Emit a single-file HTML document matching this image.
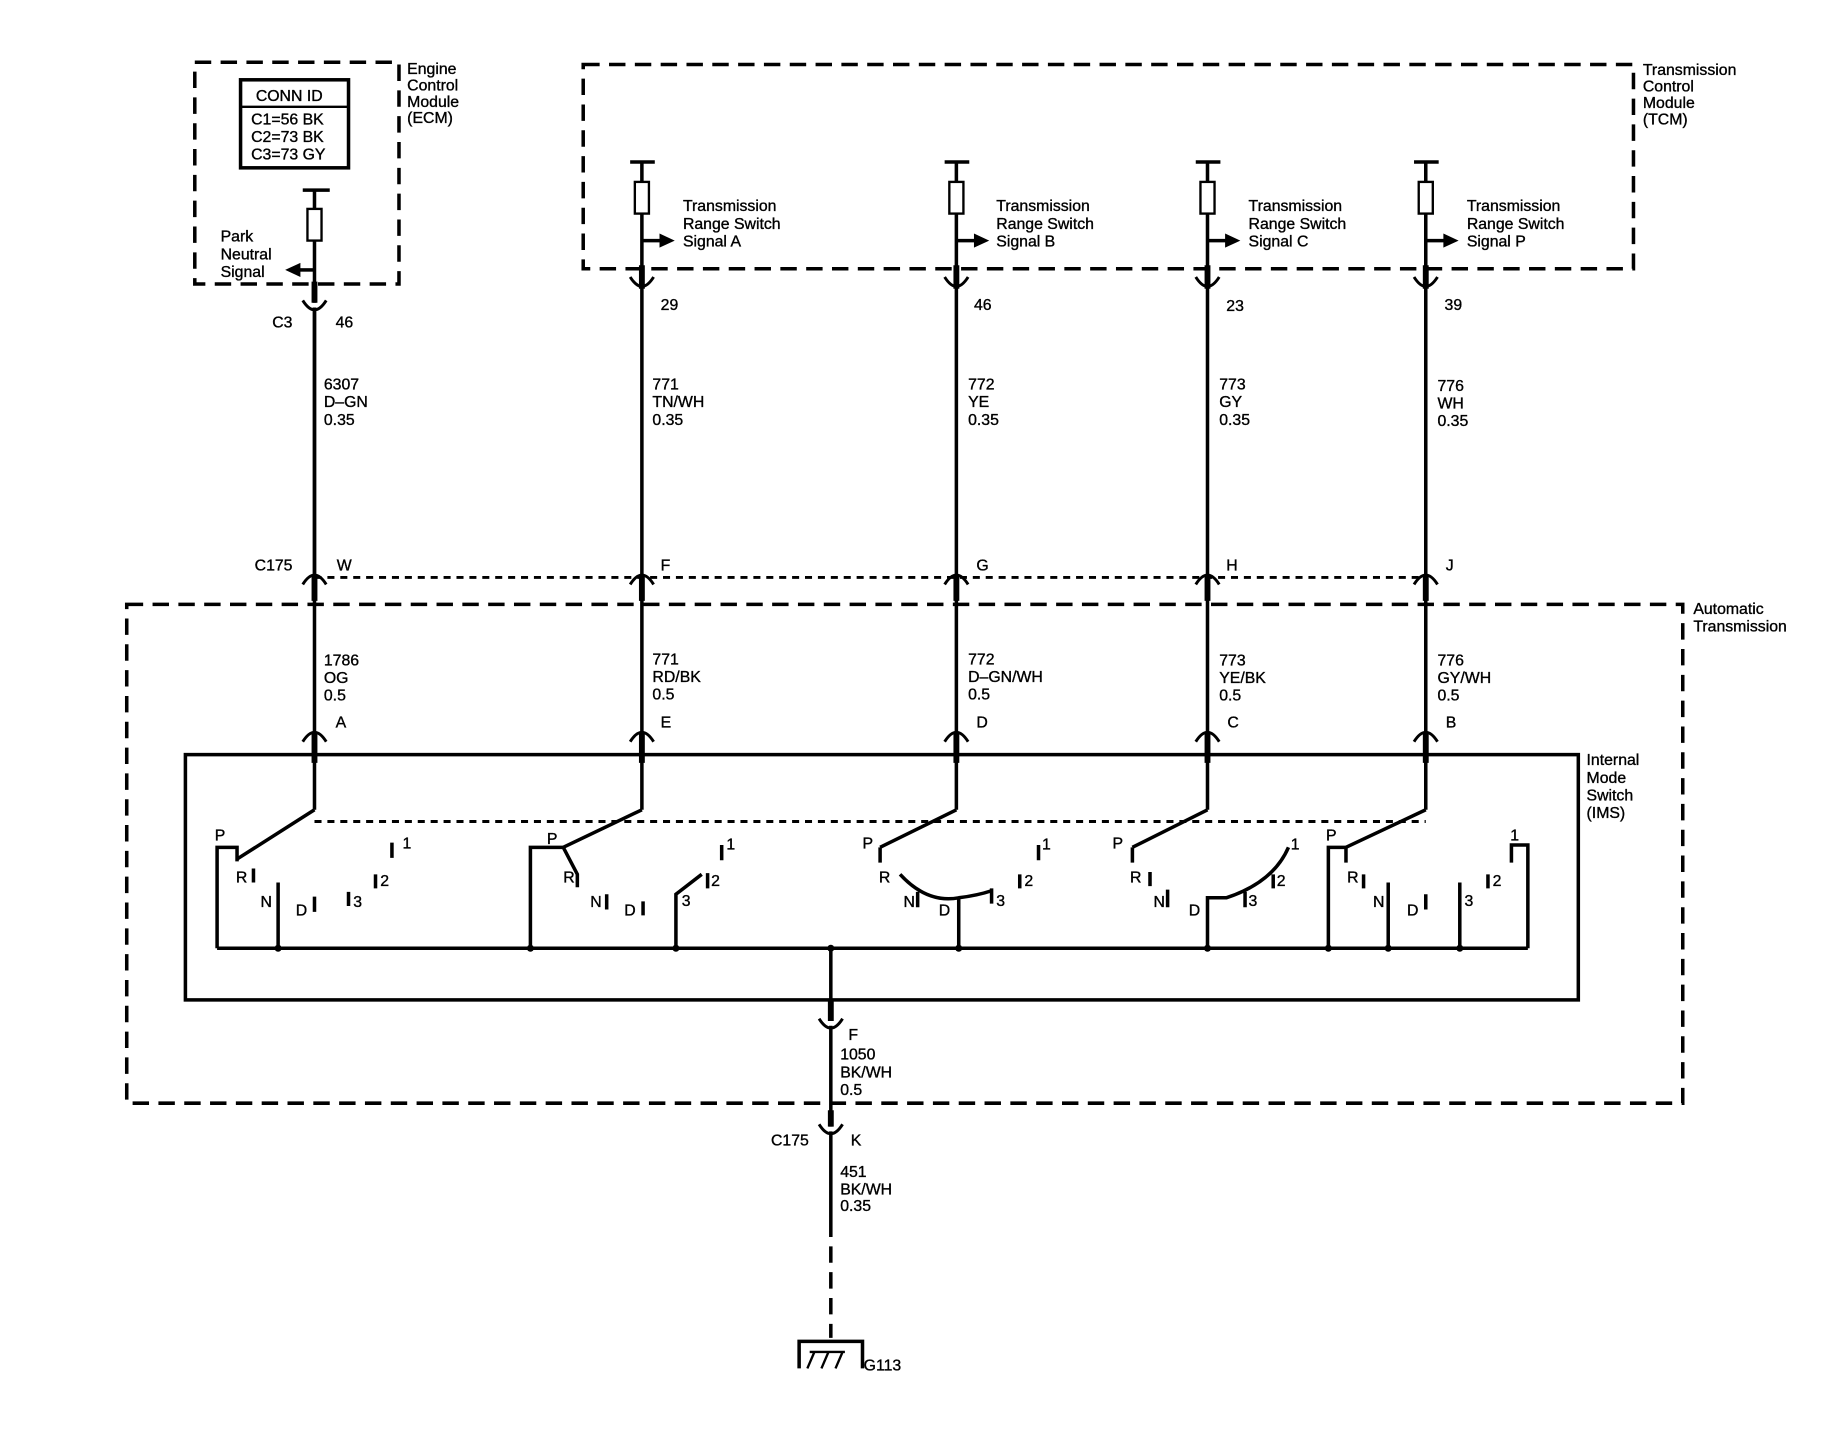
<!DOCTYPE html>
<html><head><meta charset="utf-8"><style>
html,body{margin:0;padding:0;background:#fff}
svg{display:block}
text{font-family:"Liberation Sans",Arial,sans-serif;font-size:13.5px;fill:#000;stroke:#000;stroke-width:0.3px}
</style></head><body>
<svg width="1840" height="1440" viewBox="0 0 1568 1227" preserveAspectRatio="none" xmlns="http://www.w3.org/2000/svg">
<g fill="none" stroke="#000" stroke-width="3" stroke-dasharray="14,8">
<rect x="166" y="53" width="174" height="189"/>
<rect x="497" y="55" width="895" height="174"/>
<rect x="108" y="515" width="1326" height="425"/>
</g>
<g stroke="#000" stroke-width="2.5" stroke-dasharray="6,5" fill="none">
<line x1="268" y1="492" x2="1215" y2="492"/>
<line x1="268" y1="700" x2="1215" y2="700"/>
</g>
<rect x="158" y="643" width="1187" height="209" fill="none" stroke="#000" stroke-width="3"/>
<rect x="205" y="68" width="92" height="75" fill="none" stroke="#000" stroke-width="3"/>
<line x1="205" y1="91" x2="297" y2="91" stroke="#000" stroke-width="2"/>
<text x="218" y="86">CONN ID</text>
<text x="214" y="106">C1=56 BK</text>
<text x="214" y="121">C2=73 BK</text>
<text x="214" y="136">C3=73 GY</text>
<g font-size="13.5">
<text x="347" y="63">Engine</text><text x="347" y="77">Control</text><text x="347" y="91">Module</text><text x="347" y="105">(ECM)</text>
<text x="1400" y="64">Transmission</text><text x="1400" y="78">Control</text><text x="1400" y="92">Module</text><text x="1400" y="106">(TCM)</text>
<text x="1443" y="523">Automatic</text><text x="1443" y="538">Transmission</text>
<text x="1352" y="652">Internal</text><text x="1352" y="667">Mode</text><text x="1352" y="682">Switch</text><text x="1352" y="697">(IMS)</text>
<text x="188" y="206">Park</text><text x="188" y="221">Neutral</text><text x="188" y="236">Signal</text>
</g>
<g stroke="#000" stroke-width="3" fill="none">
<line x1="258" y1="162" x2="281" y2="162"/>
<line x1="268" y1="162" x2="268" y2="178"/>
<rect x="262" y="178" width="12" height="27" stroke-width="2"/>
<line x1="268" y1="205" x2="268" y2="258"/>
<line x1="268" y1="230" x2="255" y2="230"/>
<path d="M258 256 Q268 272 278 256" stroke-width="2.5"/>
<line x1="268" y1="262" x2="268" y2="490"/>
</g>
<polygon points="243,230 256,224 256,236" fill="#000"/>
<text x="232" y="279">C3</text><text x="286" y="279">46</text>
<g stroke="#000" stroke-width="3" fill="none">
<path d="M537 138H558M547 138V155M547 182V238M547 205H563"/><rect x="541" y="155" width="12" height="27" stroke-width="2"/>
<path d="M537 236 Q547 252 557 236" stroke-width="2.5"/>
<path d="M805 138H826M815 138V155M815 182V238M815 205H831"/><rect x="809" y="155" width="12" height="27" stroke-width="2"/>
<path d="M805 236 Q815 252 825 236" stroke-width="2.5"/>
<path d="M1019 138H1040M1029 138V155M1029 182V238M1029 205H1045"/><rect x="1023" y="155" width="12" height="27" stroke-width="2"/>
<path d="M1019 236 Q1029 252 1039 236" stroke-width="2.5"/>
<path d="M1205 138H1226M1215 138V155M1215 182V238M1215 205H1231"/><rect x="1209" y="155" width="12" height="27" stroke-width="2"/>
<path d="M1205 236 Q1215 252 1225 236" stroke-width="2.5"/>
<path d="M547 242V690M815 242V690M1029 242V690M1215 242V690M268 262V690"/>
</g>
<g fill="#000">
<polygon points="575,205 562,199 562,211"/><polygon points="843,205 830,199 830,211"/><polygon points="1057,205 1044,199 1044,211"/><polygon points="1243,205 1230,199 1230,211"/>
</g>
<g font-size="13.5">
<text x="582" y="180">Transmission</text><text x="582" y="195">Range Switch</text><text x="582" y="210">Signal A</text>
<text x="849" y="180">Transmission</text><text x="849" y="195">Range Switch</text><text x="849" y="210">Signal B</text>
<text x="1064" y="180">Transmission</text><text x="1064" y="195">Range Switch</text><text x="1064" y="210">Signal C</text>
<text x="1250" y="180">Transmission</text><text x="1250" y="195">Range Switch</text><text x="1250" y="210">Signal P</text>
<text x="563" y="264">29</text><text x="830" y="264">46</text><text x="1045" y="265">23</text><text x="1231" y="264">39</text>
<text x="276" y="332">6307</text><text x="276" y="347">D–GN</text><text x="276" y="362">0.35</text>
<text x="556" y="332">771</text><text x="556" y="347">TN/WH</text><text x="556" y="362">0.35</text>
<text x="825" y="332">772</text><text x="825" y="347">YE</text><text x="825" y="362">0.35</text>
<text x="1039" y="332">773</text><text x="1039" y="347">GY</text><text x="1039" y="362">0.35</text>
<text x="1225" y="333">776</text><text x="1225" y="348">WH</text><text x="1225" y="363">0.35</text>
<text x="217" y="486">C175</text><text x="287" y="486">W</text><text x="563" y="486">F</text><text x="832" y="486">G</text><text x="1045" y="486">H</text><text x="1232" y="486">J</text>
<text x="276" y="567">1786</text><text x="276" y="582">OG</text><text x="276" y="597">0.5</text>
<text x="556" y="566">771</text><text x="556" y="581">RD/BK</text><text x="556" y="596">0.5</text>
<text x="825" y="566">772</text><text x="825" y="581">D–GN/WH</text><text x="825" y="596">0.5</text>
<text x="1039" y="567">773</text><text x="1039" y="582">YE/BK</text><text x="1039" y="597">0.5</text>
<text x="1225" y="567">776</text><text x="1225" y="582">GY/WH</text><text x="1225" y="597">0.5</text>
<text x="286" y="620">A</text><text x="563" y="620">E</text><text x="832" y="620">D</text><text x="1046" y="620">C</text><text x="1232" y="620">B</text>
</g>
<g stroke="#000" stroke-width="2.5" fill="none">
<path d="M258 498 Q268 482 278 498M537 498 Q547 482 557 498M805 498 Q815 482 825 498M1019 498 Q1029 482 1039 498M1205 498 Q1215 482 1225 498"/>
<path d="M258 632 Q268 616 278 632M537 632 Q547 616 557 632M805 632 Q815 616 825 632M1019 632 Q1029 616 1039 632M1205 632 Q1215 616 1225 632"/>
</g>
<g stroke="#000" stroke-width="5">
<path d="M268 490V512M547 490V512M815 490V512M1029 490V512M1215 490V512"/>
<path d="M268 624V650M547 624V650M815 624V650M1029 624V650M1215 624V650"/>
<path d="M547 226V246M815 226V246M1029 226V246M1215 226V246M268 240V258"/>
</g>
<g stroke="#000" stroke-width="3" fill="none">
<path d="M268 690L202 732M547 690L480 722M815 690L750 722M1029 690L965 722M1215 690L1147 722"/>
<path d="M185 808H1302"/>
<path d="M185 808V722H202V734M216 740V752M237 752V808M268 764V777M297 760V772M320 745V757M334 718V731"/>
<path d="M452 808V722H480L492 745V756M517 762V775M548 768V780M576 808V762L598 745M603 744V757M615 720V733"/>
<path d="M750 722V735M767 745 Q790 770 817 765 Q833 763 845 759M845 757V770M782 760V773M817 765V808M869 745V757M885 720V733"/>
<path d="M965 722V735M980 743V755M995 758V773M1029 808V765H1045 Q1085 752 1098 722M1061 760V773M1085 745V757"/>
<path d="M1132 808V722H1147V735M1162 745V757M1183 752V808M1215 762V775M1244 752V808M1268 745V757M1288 735V720H1302V808"/>
<path d="M708 808V870"/>
</g>
<g fill="#000">
<circle cx="237" cy="808" r="3"/><circle cx="452" cy="808" r="3"/><circle cx="576" cy="808" r="3"/><circle cx="708" cy="808" r="3"/><circle cx="817" cy="808" r="3"/><circle cx="1029" cy="808" r="3"/><circle cx="1132" cy="808" r="3"/><circle cx="1183" cy="808" r="3"/><circle cx="1244" cy="808" r="3"/>
</g>
<g font-size="13">
<text x="183" y="716">P</text><text x="201" y="752">R</text><text x="222" y="773">N</text><text x="252" y="780">D</text><text x="301" y="773">3</text><text x="324" y="755">2</text><text x="343" y="723">1</text>
<text x="466" y="719">P</text><text x="480" y="752">R</text><text x="503" y="773">N</text><text x="532" y="780">D</text><text x="581" y="772">3</text><text x="606" y="755">2</text><text x="619" y="724">1</text>
<text x="735" y="723">P</text><text x="749" y="752">R</text><text x="770" y="773">N</text><text x="800" y="780">D</text><text x="849" y="772">3</text><text x="873" y="755">2</text><text x="888" y="724">1</text>
<text x="948" y="723">P</text><text x="963" y="752">R</text><text x="983" y="773">N</text><text x="1013" y="780">D</text><text x="1064" y="772">3</text><text x="1088" y="755">2</text><text x="1100" y="724">1</text>
<text x="1130" y="716">P</text><text x="1148" y="752">R</text><text x="1170" y="773">N</text><text x="1199" y="780">D</text><text x="1248" y="772">3</text><text x="1272" y="755">2</text><text x="1287" y="716">1</text>
</g>
<g stroke="#000" stroke-width="3" fill="none">
<path d="M698 868 Q708 884 718 868" stroke-width="2.5"/>
<path d="M708 874V960"/>
<path d="M698 958 Q708 974 718 958" stroke-width="2.5"/>
<path d="M708 964V1040"/>
<path d="M708 1040V1140" stroke-dasharray="14,8"/>
<path d="M681 1166V1143H735V1166" />
<path d="M688 1166L694 1152M700 1166L706 1152M712 1166L718 1152M690 1152H720" stroke-width="2"/>
</g>
<g stroke="#000" stroke-width="5"><path d="M708 852V870M708 946V960"/></g>
<g font-size="13.5">
<text x="723" y="886">F</text><text x="716" y="903">1050</text><text x="716" y="918">BK/WH</text><text x="716" y="933">0.5</text>
<text x="657" y="976">C175</text><text x="725" y="976">K</text>
<text x="716" y="1003">451</text><text x="716" y="1018">BK/WH</text><text x="716" y="1032">0.35</text>
<text x="736" y="1168">G113</text>
</g>
</svg>
</body></html>
